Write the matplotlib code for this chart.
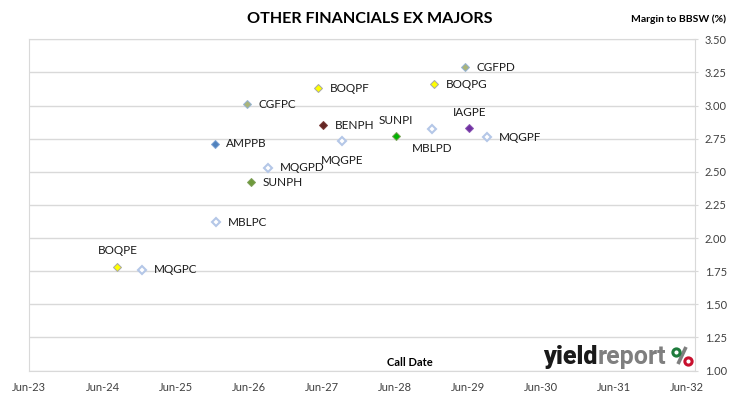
import numpy as np
import pandas as pd
import matplotlib
matplotlib.use("Agg")
import matplotlib.pyplot as plt
import matplotlib.dates as mdates

plt.rcParams['font.family'] = ['Lato', 'DejaVu Sans']

# data
codes = ["BOQPE", "MQGPC", "MBLPC", "AMPPB", "SUNPH", "CGFPC", "MQGPD",
         "BOQPF", "BENPH", "MQGPE", "SUNPI", "MBLPD", "BOQPG", "CGFPD",
         "IAGPE", "MQGPF"]
call_dates = ["2024-08-14", "2024-12-16", "2025-12-20", "2025-12-13",
              "2026-06-14", "2026-05-22", "2026-09-06", "2027-05-12",
              "2027-06-10", "2027-09-13", "2028-06-07", "2028-12-02",
              "2028-12-13", "2029-05-16", "2029-06-07", "2029-09-03"]
margins = [1.78, 1.76, 2.12, 2.71, 2.42, 3.01, 2.53, 3.13,
           2.85, 2.73, 2.77, 2.82, 3.16, 3.29, 2.83, 2.76]

# marker styles per issuer
fills = {"BOQ": "#FFFF00", "MQG": "white", "MBL": "white", "AMP": "#4F81BD",
         "SUN": "#6E9A3B", "CGF": "#A9B47A", "BEN": "#632523", "IAG": "#7030A0"}
edges = {"BOQ": "#A6A6A6", "MQG": "#B4C7E7", "MBL": "#B4C7E7", "AMP": "#7FA4D6",
         "SUN": "#7FA05A", "CGF": "#95B3D7", "BEN": "#7A3B39", "IAG": "#8A55B5"}
special_fill = {"SUNPI": "#00B400"}

# label placement (dx, dy in points, ha)
label_pos = {"BOQPE": (0, 12, "center"), "MQGPE": (0, -14, "center"),
             "SUNPI": (0, 11, "center"), "MBLPD": (0, -14, "center"),
             "IAGPE": (0, 11, "center")}

x = pd.to_datetime(call_dates)

fig = plt.figure(figsize=(7.30, 3.99), dpi=100)
ax = fig.add_axes([29/730, 1 - 370.5/399, 666/730, 331.2/399])

for code, xi, yi in zip(codes, x, margins):
    iss = code[:3]
    fc = special_fill.get(code, fills[iss])
    hollow = fc == "white"
    ax.plot(xi, yi, marker="D", ms=3.6, mfc=fc, mec=edges[iss],
            mew=1.5 if hollow else 0.7, ls="none", zorder=3)
    dx, dy, ha = label_pos.get(code, (8.5, 0, "left"))
    ax.annotate(code, (xi, yi), xytext=(dx, dy), textcoords="offset points",
                ha=ha, va="center", fontsize=8.5, color="#1a1a1a")

ax.set_xlim(pd.Timestamp("2023-05-30"), pd.Timestamp("2032-07-10"))
ax.set_ylim(1.0, 3.5)
ax.xaxis.set_major_locator(mdates.MonthLocator(bymonth=6, bymonthday=1))
ax.xaxis.set_major_formatter(mdates.DateFormatter("%b-%y"))
ax.set_yticks(np.arange(1.0, 3.51, 0.25))
ax.yaxis.set_major_formatter(matplotlib.ticker.FormatStrFormatter("%.2f"))
ax.yaxis.tick_right()
ax.grid(axis="y", color="#D9D9D9", lw=1)
ax.set_axisbelow(True)
for s in ["top", "left", "bottom", "right"]:
    ax.spines[s].set_color("#D9D9D9")
ax.tick_params(axis="y", length=4, color="#D9D9D9", labelsize=8, labelcolor="#404040", pad=5, direction="inout")
ax.tick_params(axis="x", length=0, labelsize=8, labelcolor="#404040", pad=8)

fig.text(0.507, 0.952, "OTHER FINANCIALS EX MAJORS", ha="center", va="center",
         fontsize=11.6, fontweight="bold")
fig.text(0.995, 0.952, "Margin to BBSW (%)", ha="right", va="center",
         fontsize=7.5, fontweight="bold")
ax.text(0.572, 0.025, "Call Date", transform=ax.transAxes, ha="center",
        va="center", fontsize=8, fontweight="bold")

# logo
logo_font = ["Roboto", "DejaVu Sans"]
lx, ly = 543/730, 1 - 364/399
t1 = fig.text(lx, ly, "yield", fontsize=18, fontweight="black", color="#1a1a1a",
              va="baseline", family=logo_font)
fig.canvas.draw()
bb = t1.get_window_extent()
fig.text(bb.x1/730, ly, "report", fontsize=18, fontweight="bold", color="#7F7F7F",
         va="baseline", family=logo_font)
# the % sign: grey slash, green and red rings
fig.add_artist(plt.Line2D([678/730, 686/730], [1 - 364/399, 1 - 347/399], color="#7F7F7F",
                          lw=2.6, solid_capstyle="butt", transform=fig.transFigure))
fig.add_artist(plt.Line2D([675.5/730], [1 - 351.5/399], marker="o", ms=5.2, mfc="white",
                          mec="#1E7B3C", mew=2.2, transform=fig.transFigure))
fig.add_artist(plt.Line2D([687.5/730], [1 - 360.5/399], marker="o", ms=5.2, mfc="white",
                          mec="#C8102E", mew=2.2, transform=fig.transFigure))

fig.savefig("out.png", dpi=100)
